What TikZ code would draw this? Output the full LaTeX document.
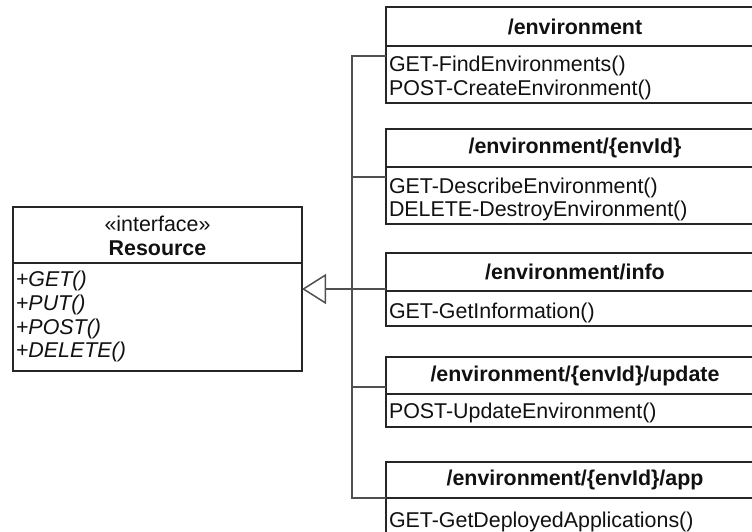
\documentclass[tikz,border=0pt]{standalone}
\usepackage{fontspec}
\setmainfont{Liberation Sans}
\usetikzlibrary{arrows.meta}
\definecolor{boxline}{HTML}{262626}
\definecolor{conline}{HTML}{505050}
\definecolor{txt}{HTML}{111111}
\begin{document}
\begin{tikzpicture}[x=1pt,y=-1pt,
  every node/.style={font=\fontsize{21.4pt}{24pt}\selectfont, text=txt, inner sep=0pt, outer sep=0pt},
  frame/.style={draw=boxline, line width=2pt, anchor=north west, minimum width=378pt},
  resframe/.style={draw=boxline, line width=2pt, anchor=north west, minimum width=289pt},
  title/.style={font=\fontsize{21.4pt}{24pt}\selectfont\bfseries},
  meth/.style={anchor=base west},
  op/.style={anchor=base west, font=\fontsize{21.4pt}{24pt}\selectfont\itshape},
  conn/.style={draw=conline, line width=1.5pt},
  gen/.style={conn, -{Triangle[open, length=24pt, width=30pt, line width=1.5pt]}}
]
\useasboundingbox (0,0) rectangle (752,531);
\fill[white] (0,0) rectangle (752,531);
\clip (0,0) rectangle (752,531);

% Resource interface
\node[resframe, minimum height=56pt] (resh) at (13,207) {};
\node[anchor=base] (rests) at (157.5,231) {«interface»};
\node[anchor=base, title] (resn) at (157.5,255) {Resource};
\node[resframe, minimum height=108pt] (resb) at (13,263) {};
\node[op] (op1) at (16,286.5) {+GET()};
\node[op] (op2) at (16,310.5) {+PUT()};
\node[op] (op3) at (16,334) {+POST()};
\node[op] (op4) at (16,357.5) {+DELETE()};

% Box 1
\node[frame, title, minimum height=39pt] (e1h) at (386,7) {/environment};
\node[frame, minimum height=57pt] (e1b) at (386,46) {};
\node[meth] (e1m1) at (389,71) {GET-FindEnvironments()};
\node[meth] (e1m2) at (389,95) {POST-CreateEnvironment()};

% Box 2
\node[frame, title, minimum height=38pt] (e2h) at (386,129) {/environment/\{envId\}};
\node[frame, minimum height=57pt] (e2b) at (386,167) {};
\node[meth] (e2m1) at (389,193) {GET-DescribeEnvironment()};
\node[meth] (e2m2) at (389,216.5) {DELETE-DestroyEnvironment()};

% Box 3
\node[frame, title, minimum height=38pt] (e3h) at (386,253) {/environment/info};
\node[frame, minimum height=35pt] (e3b) at (386,291) {};
\node[meth] (e3m1) at (389,318) {GET-GetInformation()};

% Box 4
\node[frame, title, minimum height=37pt] (e4h) at (386,357) {/environment/\{envId\}/update};
\node[frame, minimum height=33pt] (e4b) at (386,394) {};
\node[meth] (e4m1) at (389,418) {POST-UpdateEnvironment()};

% Box 5
\node[frame, title, minimum height=36pt] (e5h) at (386,462) {/environment/\{envId\}/app};
\node[frame, minimum height=50pt] (e5b) at (386,498) {};
\node[meth] (e5m1) at (389,527) {GET-GetDeployedApplications()};

% Connectors
\coordinate (j1) at (352,56);
\coordinate (j2) at (352,177);
\coordinate (j3) at (352,289);
\coordinate (j4) at (352,387);
\coordinate (j5) at (352,498);
\draw[conn] (j1 -| e1b.west) -- (j1) -- (j5) -- (j5 -| e5b.west);
\draw[conn] (j2) -- (j2 -| e2b.west);
\draw[conn] (j3) -- (j3 -| e3b.west);
\draw[conn] (j4) -- (j4 -| e4b.west);
\draw[gen] (j3) -- (j3 -| resb.east);
\end{tikzpicture}
\end{document}
